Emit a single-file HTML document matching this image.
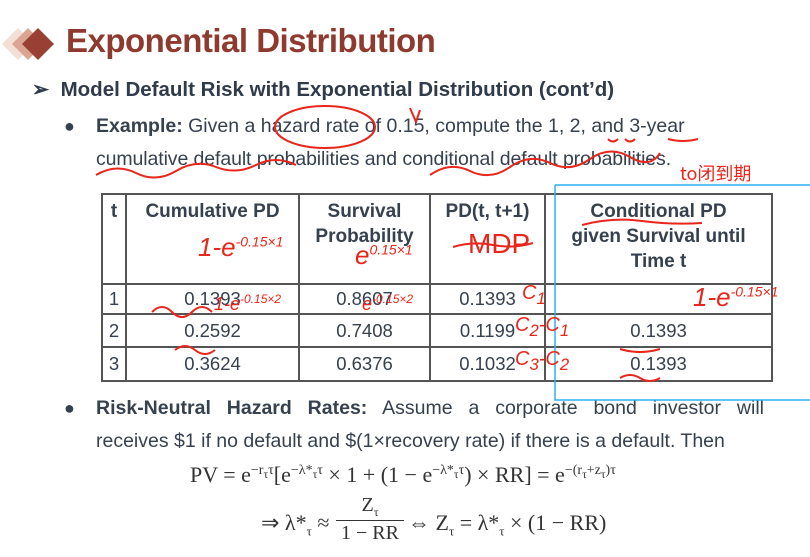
<!DOCTYPE html>
<html><head><meta charset="utf-8"><style>
body{margin:0;width:810px;height:557px;background:#fff;position:relative;overflow:hidden;font-family:"Liberation Sans",sans-serif;color:#364150}
.a{position:absolute;white-space:nowrap}
.j{position:absolute;text-align:justify;text-align-last:justify;white-space:nowrap;font-size:19.5px}
table{position:absolute;left:101px;top:193px;border-collapse:collapse;font-size:18.5px;color:#364150}
td,th{border:2px solid #555;padding:0;text-align:center}
th{font-weight:bold;vertical-align:top;line-height:25px;padding-top:4px;font-size:19px}
.s{font-family:"Liberation Serif",serif;font-size:22px;color:#333}
.s sup{font-size:14px}
</style></head><body>
<svg class="a" style="left:0;top:20px" width="60" height="50">
<polygon points="18,8 34,24 18,40 2,24" fill="#f3dfd6"/>
<polygon points="28,8 44,24 28,40 12,24" fill="#dba594"/>
<polygon points="38,8 54,24 38,40 22,24" fill="#9a3f33"/>
</svg>
<div class="a" style="left:66px;top:22px;font-size:33px;font-weight:bold;color:#8e3a2f;letter-spacing:-0.5px">Exponential Distribution</div>
<div class="a" style="left:32px;top:77px;font-size:20.5px;font-weight:bold;color:#2f3b4b">➢&nbsp;&nbsp;Model Default Risk with Exponential Distribution (cont’d)</div>
<div class="a" style="left:64px;top:116px;font-size:18px">●</div>
<div class="j" style="left:96px;top:115px;width:584px"><b>Example:</b> Given a hazard rate of 0.15, compute the 1, 2, and 3-year</div>
<div class="a" style="left:96px;top:148px;font-size:19.5px;letter-spacing:-0.1px">cumulative default probabilities and conditional default probabilities.</div>
<table>
<tr style="height:90px"><th style="width:22px">t</th><th style="width:171px">Cumulative PD</th><th style="width:129px">Survival<br>Probability</th><th style="width:113px">PD(t, t+1)</th><th style="width:225px">Conditional PD<br>given Survival until<br>Time t</th></tr>
<tr style="height:30px"><td>1</td><td>0.1393</td><td>0.8607</td><td>0.1393</td><td></td></tr>
<tr style="height:33px"><td>2</td><td>0.2592</td><td>0.7408</td><td>0.1199</td><td>0.1393</td></tr>
<tr style="height:34px"><td>3</td><td>0.3624</td><td>0.6376</td><td>0.1032</td><td>0.1393</td></tr>
</table>
<div class="a" style="left:64px;top:398px;font-size:18px">●</div>
<div class="j" style="left:96px;top:397px;width:668px"><b>Risk-Neutral Hazard Rates:</b> Assume a corporate bond investor will</div>
<div class="a" style="left:96px;top:430px;font-size:19.5px">receives $1 if no default and $(1×recovery rate) if there is a default. Then</div>
<div class="a s" style="left:190px;top:462px">PV = e<sup>−r<sub>τ</sub>τ</sup>[e<sup>−λ*<sub>τ</sub>τ</sup> × 1 + (1 − e<sup>−λ*<sub>τ</sub>τ</sup>) × RR] = e<sup>−(r<sub>τ</sub>+z<sub>τ</sub>)τ</sup></div>
<div class="a s" style="left:261px;top:510px">⇒ λ*<sub style="font-size:13px">τ</sub> ≈</div>
<div class="a s" style="left:336px;top:494px;width:68px;text-align:center;border-bottom:1px solid #333;font-size:20px">Z<sub style="font-size:12px">τ</sub></div>
<div class="a s" style="left:336px;top:522px;width:68px;text-align:center;font-size:20px">1 − RR</div>
<div class="a s" style="left:408px;top:510px">⇔ Z<sub style="font-size:13px">τ</sub> = λ*<sub style="font-size:13px">τ</sub> × (1 − RR)</div>
<svg class="a" style="left:0;top:0" width="810" height="557" fill="none" stroke="#e8261c" stroke-width="2">
<ellipse cx="325" cy="127" rx="50" ry="21"/>
<path d="M96 175 q20 -12 40 -2 t40 -2 t40 -4 t40 -2 t40 0 M430 175 q20 -14 40 -4 t40 -4 t40 -4 t40 -4 t40 -2 t30 -4"/>
<path d="M410 108 l6 14 l4 -12"/>
<path d="M608 139 q5 5 10 0 M625 139 q5 5 10 0 M668 139 q15 4 30 0"/>
<path d="M582 225 q30 -8 60 -4 t60 2 M453 247 q20 -6 40 -2 t40 -2"/>
<path d="M152 312 q10 -10 20 0 t20 0 t20 0 M175 350 q10 -8 20 0 t20 0 M620 349 q20 6 40 0 M620 378 q10 -6 20 0 t20 0"/>
<path d="M555 185 l255 0 M555 185 L555 400 L810 400" stroke="#2bb0f0" stroke-width="1.5"/>
</svg>
<div class="a" style="left:198px;top:232px;font-size:26px;color:#e8261c;font-style:italic">1-e<sup style="font-size:14px">-0.15×1</sup></div>
<div class="a" style="left:355px;top:240px;font-size:26px;color:#e8261c;font-style:italic">e<sup style="font-size:14px">0.15×1</sup></div>
<div class="a" style="left:468px;top:228px;font-size:28px;color:#e8261c">MDP</div>
<div class="a" style="left:214px;top:292px;font-size:18px;color:#e8261c;font-style:italic">1-e<sup style="font-size:12px">-0.15×2</sup></div>
<div class="a" style="left:362px;top:292px;font-size:18px;color:#e8261c;font-style:italic">e<sup style="font-size:12px">-0.15×2</sup></div>
<div class="a" style="left:522px;top:282px;font-size:20px;color:#e8261c;font-style:italic">C<sub>1</sub></div>
<div class="a" style="left:515px;top:314px;font-size:20px;color:#e8261c;font-style:italic">C<sub>2</sub>-C<sub>1</sub></div>
<div class="a" style="left:515px;top:348px;font-size:20px;color:#e8261c;font-style:italic">C<sub>3</sub>-C<sub>2</sub></div>
<div class="a" style="left:693px;top:282px;font-size:26px;color:#e8261c;font-style:italic">1-e<sup style="font-size:14px">-0.15×1</sup></div>
<div class="a" style="left:680px;top:160px;font-size:18px;color:#e8261c;font-family:'Noto Sans CJK SC',sans-serif">to闭到期</div>
</body></html>
